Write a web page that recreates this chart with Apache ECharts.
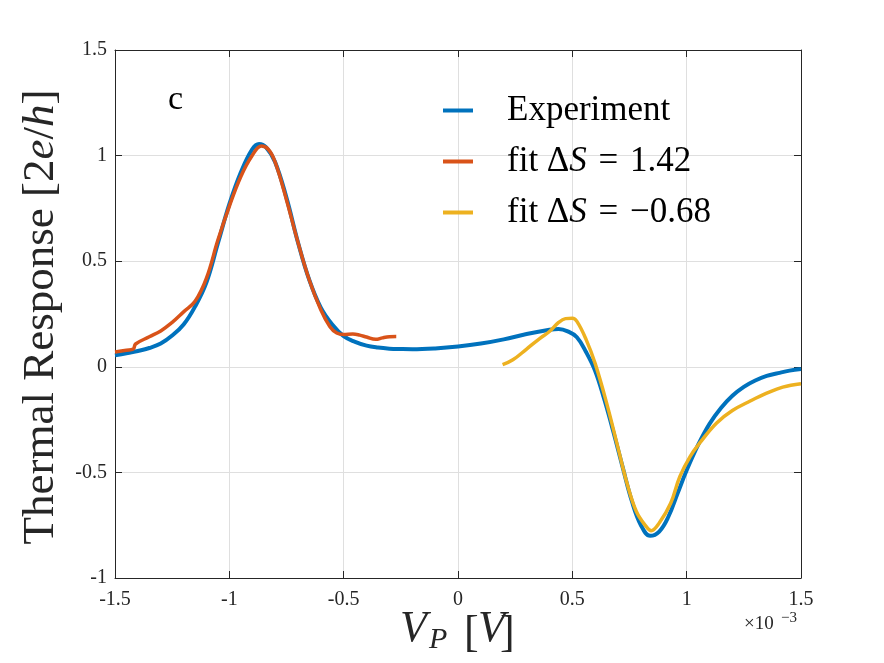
<!DOCTYPE html>
<html>
<head>
<meta charset="utf-8">
<script src="https://cdn.jsdelivr.net/npm/echarts@6/dist/echarts.min.js"></script>
<style>
  html, body { margin: 0; padding: 0; background: #fff; }
  #chart { width: 884px; height: 663px; }
</style>
</head>
<body>
<div id="chart"></div>
<script>
// x values are in units of 1e-3 V (axis shows x10^-3)
var expX = [-1.5, -1.45, -1.4, -1.35, -1.3, -1.25, -1.2, -1.15, -1.1, -1.05, -1.0, -0.95, -0.9, -0.87, -0.84, -0.8, -0.75, -0.7, -0.65, -0.6, -0.55, -0.5, -0.45, -0.4, -0.35, -0.3, -0.25, -0.2, -0.1, 0, 0.1, 0.2, 0.3, 0.4, 0.44, 0.48, 0.52, 0.56, 0.6, 0.64, 0.68, 0.72, 0.76, 0.8, 0.84, 0.88, 0.92, 0.96, 1.0, 1.05, 1.1, 1.15, 1.2, 1.25, 1.3, 1.35, 1.4, 1.45, 1.5]
var expY = [0.054, 0.064, 0.075, 0.089, 0.11, 0.148, 0.2, 0.285, 0.4, 0.585, 0.77, 0.92, 1.03, 1.055, 1.04, 0.97, 0.8, 0.59, 0.41, 0.28, 0.2, 0.145, 0.118, 0.1, 0.091, 0.086, 0.084, 0.083, 0.087, 0.096, 0.11, 0.13, 0.155, 0.175, 0.179, 0.168, 0.14, 0.07, -0.02, -0.155, -0.31, -0.475, -0.635, -0.75, -0.8, -0.78, -0.71, -0.6, -0.49, -0.37, -0.27, -0.195, -0.137, -0.095, -0.065, -0.043, -0.03, -0.018, -0.01]

var fit1X = [-1.5, -1.45, -1.42, -1.41, -1.35, -1.3, -1.25, -1.2, -1.15, -1.1, -1.05, -1.0, -0.95, -0.9, -0.86, -0.83, -0.8, -0.75, -0.7, -0.65, -0.6, -0.56, -0.53, -0.5, -0.46, -0.43, -0.4, -0.36, -0.33, -0.3, -0.27]
var fit1Y = [0.07, 0.078, 0.084, 0.108, 0.142, 0.17, 0.21, 0.26, 0.31, 0.42, 0.6, 0.76, 0.9, 1.0, 1.045, 1.03, 0.97, 0.79, 0.59, 0.41, 0.27, 0.19, 0.16, 0.153, 0.155, 0.15, 0.141, 0.13, 0.137, 0.142, 0.143]

var fit2X = [0.195, 0.24, 0.3, 0.36, 0.4, 0.44, 0.47, 0.5, 0.52, 0.56, 0.6, 0.65, 0.7, 0.74, 0.78, 0.82, 0.845, 0.88, 0.93, 0.97, 1.015, 1.06, 1.13, 1.2, 1.28, 1.35, 1.42, 1.5]
var fit2Y = [0.01, 0.033, 0.084, 0.136, 0.167, 0.21, 0.228, 0.23, 0.215, 0.13, 0.015, -0.172, -0.385, -0.555, -0.685, -0.752, -0.776, -0.74, -0.646, -0.52, -0.425, -0.357, -0.267, -0.207, -0.161, -0.125, -0.096, -0.08]

var seriesNames = ['Experiment', 'fit \u0394S = 1.42', 'fit \u0394S = \u22120.68']
var colors = ['#0072BD', '#D95319', '#EDB120']

function pairs(xs, ys) {
  var out = []
  for (var i = 0; i < xs.length; i++) out.push([xs[i], ys[i]])
  return out
}

var FONT = '"Liberation Serif", "DejaVu Serif", serif'
var chart = echarts.init(document.getElementById('chart'))

var lineSeries = [pairs(expX, expY), pairs(fit1X, fit1Y), pairs(fit2X, fit2Y)].map(function(d, i) {
  return {
    name: seriesNames[i],
    type: 'line',
    data: d,
    showSymbol: false,
    smooth: 0.4,
    lineStyle: { color: colors[i], width: i === 0 ? 4 : 3.5 },
    itemStyle: { color: colors[i] },
    z: 2 + i
  }
})

chart.setOption({
  animation: false,
  grid: { left: 115, right: 83, top: 50, bottom: 85 },
  legend: {
    orient: 'vertical',
    left: 438,
    top: 88,
    itemWidth: 30,
    itemHeight: 4,
    itemGap: 16,
    icon: 'rect',
    data: seriesNames,
    formatter: function(name) {
      if (name === 'Experiment') return '{r|Experiment}'
      var parts = name.split('\u0394S')
      // slightly wider spacing around "=" like the math typesetting
      return '{r|' + parts[0] + '\u0394}{i|S}{r|' + parts[1].replace(/ /g, '\u2004') + '}'
    },
    textStyle: {
      padding: [0, 0, 0, 29],
      rich: {
        r: { fontFamily: FONT, fontSize: 35, color: '#000', lineHeight: 36 },
        i: { fontFamily: FONT, fontSize: 35, fontStyle: 'italic', color: '#000', lineHeight: 36 }
      }
    }
  },
  xAxis: [{
    type: 'value',
    min: -1.5,
    max: 1.5,
    interval: 0.5,
    axisLine: { show: true, onZero: false, lineStyle: { color: '#262626', width: 1 } },
    axisTick: { show: true, inside: true, length: 7, lineStyle: { color: '#262626' } },
    axisLabel: { fontFamily: FONT, fontSize: 20, color: '#262626', margin: 12 },
    splitLine: { show: true, lineStyle: { color: '#dfdfdf', width: 1 } }
  }, {
    type: 'value',
    position: 'top',
    min: -1.5,
    max: 1.5,
    interval: 0.5,
    axisLine: { show: true, onZero: false, lineStyle: { color: '#262626', width: 1 } },
    axisTick: { show: true, inside: true, length: 7, lineStyle: { color: '#262626' } },
    axisLabel: { show: false },
    splitLine: { show: false }
  }],
  yAxis: [{
    type: 'value',
    min: -1,
    max: 1.5,
    interval: 0.5,
    axisLine: { show: true, onZero: false, lineStyle: { color: '#262626', width: 1 } },
    axisTick: { show: true, inside: true, length: 7, lineStyle: { color: '#262626' } },
    axisLabel: { fontFamily: FONT, fontSize: 20, color: '#262626', margin: 8 },
    splitLine: { show: true, lineStyle: { color: '#dfdfdf', width: 1 } }
  }, {
    type: 'value',
    position: 'right',
    min: -1,
    max: 1.5,
    interval: 0.5,
    axisLine: { show: true, onZero: false, lineStyle: { color: '#262626', width: 1 } },
    axisTick: { show: true, inside: true, length: 7, lineStyle: { color: '#262626' } },
    axisLabel: { show: false },
    splitLine: { show: false }
  }],
  graphic: [
    // panel label
    { type: 'text', left: 168, top: 83, style: { text: 'c', font: '34px ' + FONT, fill: '#000' } },
    // y axis title
    {
      type: 'text', x: 41, y: 317, rotation: Math.PI / 2,
      style: {
        text: '{r|Thermal Response [2}{i|e}{r|/}{i|h}{r|]}',
        align: 'center', verticalAlign: 'middle',
        rich: {
          r: { fontFamily: FONT, fontSize: 45, fill: '#262626' },
          i: { fontFamily: FONT, fontSize: 45, fontStyle: 'italic', fill: '#262626' }
        }
      }
    },
    // x axis title V_P [V]
    { type: 'text', x: 400, y: 651, style: { text: 'V', font: 'italic 44px ' + FONT, fill: '#262626', verticalAlign: 'bottom' } },
    { type: 'text', x: 429, y: 655, style: { text: 'P', font: 'italic 30px ' + FONT, fill: '#262626', verticalAlign: 'bottom' } },
    { type: 'text', x: 464, y: 656, style: { text: '[', font: '44px ' + FONT, fill: '#262626', verticalAlign: 'bottom' } },
    { type: 'text', x: 478, y: 651, style: { text: 'V', font: 'italic 44px ' + FONT, fill: '#262626', verticalAlign: 'bottom' } },
    { type: 'text', x: 500, y: 656, style: { text: ']', font: '44px ' + FONT, fill: '#262626', verticalAlign: 'bottom' } },
    // exponent
    { type: 'text', x: 744, y: 634, style: { text: '\u00d710', font: '19px ' + FONT, fill: '#262626', verticalAlign: 'bottom' } },
    { type: 'text', x: 781, y: 626, style: { text: '\u22123', font: '15px ' + FONT, fill: '#262626', verticalAlign: 'bottom' } }
  ],
  series: lineSeries
})
</script>
</body>
</html>
